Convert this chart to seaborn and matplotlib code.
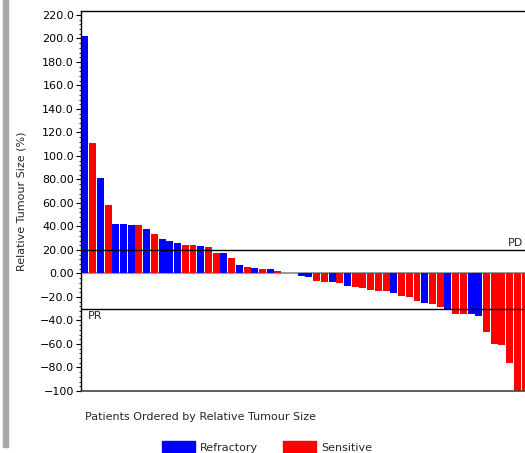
import matplotlib
matplotlib.use("Agg")
import matplotlib.pyplot as plt
import seaborn as sns
import pandas as pd
from matplotlib.ticker import AutoMinorLocator
from matplotlib.patches import Rectangle, Patch

values = [202, 111.3, 81.5, 58.3, 42.1, 41.9, 41.3, 41.3, 37.6, 33.6, 29.4, 27.4,
          26.0, 24.3, 24.3, 23.4, 22.3, 17.4, 17.2, 13.2, 7.0, 5.8, 4.9, 3.8, 3.6, 2.4,
          0, 0,
          -2.1, -3.2, -6.4, -7.0, -7.5, -7.8, -10.4, -11.2, -12.1, -13.8, -14.9, -15.1,
          -16.9, -19.1, -19.7, -23.7, -24.9, -26.2, -28.3, -30.2, -34.2, -34.2, -34.2,
          -35.9, -50.0, -60.3, -60.9, -76.4, -100, -100]
codes = ("BRBRBBBRBRBBBRRBRRBRBRBRBR" + "BR" +
         "BBRRBRBRRRRRBRRRBRRBRRBBRRRRRR")
groups = ["Refractory" if c == "B" else "Sensitive" for c in codes]
patients = [f"P{i+1:02d}" for i in range(len(values))]
ytick_vals = [220, 200, 180, 160, 140, 120, 100, 80, 60, 40, 20, 0, -20, -40, -60, -80, -100]
ytick_labels = ["220.0", "200.0", "180.0", "160.0", "140.0", "120.0", "100.0", "80.00",
                "60.00", "40.00", "20.00", "0.00", "\u221220.0", "\u221240.0", "\u221260.0",
                "\u221280.0", "\u2212100"]
palette = {"Refractory": "#0000FF", "Sensitive": "#FF0000"}

df = pd.DataFrame({"patient": patients, "size": values, "group": groups})

sns.set_theme(style="white")
plt.rcParams["font.family"] = ["DejaVu Sans"]

fig = plt.figure(figsize=(5.25, 4.53), dpi=100)
W, H = 525, 453
ax = fig.add_axes([81 / W, (H - 391) / H, 448 / W, 380 / H])

sns.barplot(data=df, x="patient", y="size", hue="group", palette=palette,
            dodge=False, width=0.9, linewidth=0, saturation=1, legend=False, ax=ax,
            order=patients)

ax.set_xlim(-0.5, len(values) - 0.5)
ax.set_ylim(-100, 223.4)
ax.set_yticks(ytick_vals)
ax.set_yticklabels(ytick_labels)
ax.yaxis.set_minor_locator(AutoMinorLocator(5))
ax.tick_params(axis="y", which="major", left=True, length=3.5, width=0.8, pad=1.5,
               labelsize=8, colors="black")
ax.tick_params(axis="y", which="minor", left=True, length=1.8, width=0.6, colors="black")
ax.set_xticks([])
ax.set_xlabel("")

ax.axhline(0, color="#888888", lw=1.2, zorder=0.5)
ax.axhline(20, color="black", lw=1.0)
ax.axhline(-30, color="black", lw=1.0)
ax.text((523 - 81) / 448, 21.5, "PD", transform=ax.get_yaxis_transform(), ha="right",
        va="bottom", fontsize=8)
ax.text(0.016, -32, "PR", transform=ax.get_yaxis_transform(), ha="left", va="top",
        fontsize=8)

for s in ["left", "top", "right"]:
    ax.spines[s].set_color("black")
    ax.spines[s].set_linewidth(1.0)
ax.spines["bottom"].set_color("#444444")
ax.spines["bottom"].set_linewidth(1.2)

ax.set_ylabel("Relative Tumour Size (%)", fontsize=8, labelpad=0)
ax.yaxis.set_label_coords(-0.122, 0.5)

fig.text(85 / W, 1 - 417 / H, "Patients Ordered by Relative Tumour Size", ha="left",
         va="center", fontsize=8)

handles = [Patch(color=palette["Refractory"], label="Refractory"),
           Patch(color=palette["Sensitive"], label="Sensitive")]
fig.legend(handles=handles, loc="center", bbox_to_anchor=(267 / W, 1 - 447 / H), ncol=2,
           frameon=False, fontsize=8, handlelength=3.0, handleheight=1.1,
           handletextpad=0.45, columnspacing=2.2, borderpad=0)

fig.patches.append(Rectangle((3 / W, 6 / H), 5 / W, 1 - 6 / H, transform=fig.transFigure,
                             color="#a8a8a8", zorder=0))

fig.savefig("out.png", dpi=100)
